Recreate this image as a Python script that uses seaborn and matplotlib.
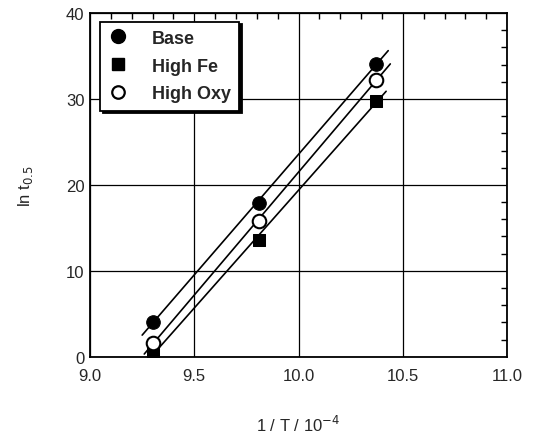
import numpy as np
import pandas as pd
import matplotlib
matplotlib.use("Agg")
import matplotlib.pyplot as plt
import seaborn as sns
from matplotlib.lines import Line2D
from matplotlib.ticker import MultipleLocator

sns.set_style("white")
plt.rcParams['font.family'] = ['Liberation Sans', 'DejaVu Sans']

# data
inv_T = [9.30, 9.81, 10.37]
base = [4.1, 17.9, 34.1]
high_fe = [0.5, 13.6, 29.8]
high_oxy = [1.6, 15.8, 32.2]
series_names = ["Base", "High Fe", "High Oxy"]
fit_ranges = {"Base": (9.25, 10.43), "High Fe": (9.31, 10.42), "High Oxy": (9.26, 10.44)}

df = pd.DataFrame({
    "x": inv_T * 3,
    "y": base + high_fe + high_oxy,
    "series": [s for s in series_names for _ in inv_T],
})

fig = plt.figure(figsize=(5.36, 4.39), dpi=100)
ax = fig.add_axes([0.168, 0.185, 0.778, 0.783])

ax.grid(True, color="black", linewidth=0.9)
ax.set_axisbelow(True)

# fit lines
for name in series_names:
    sub = df[df.series == name]
    m, c = np.polyfit(sub.x, sub.y, 1)
    x0, x1 = fit_ranges[name]
    xs = np.array([x0, x1])
    ax.plot(xs, m * xs + c, color="black", linewidth=1.2, zorder=2)

sns.scatterplot(data=df[df.series == "Base"], x="x", y="y", marker="o", s=95,
                color="black", edgecolor="black", ax=ax, zorder=3, legend=False)
sns.scatterplot(data=df[df.series == "High Fe"], x="x", y="y", marker="s", s=85,
                color="black", edgecolor="black", ax=ax, zorder=3, legend=False)
sns.scatterplot(data=df[df.series == "High Oxy"], x="x", y="y", marker="o", s=95,
                facecolor="white", edgecolor="black", linewidth=1.5, ax=ax, zorder=3, legend=False)

ax.set_xlim(9.0, 11.0)
ax.set_ylim(0, 40)
ax.xaxis.set_major_locator(MultipleLocator(0.5))
ax.xaxis.set_minor_locator(MultipleLocator(0.1))
ax.yaxis.set_major_locator(MultipleLocator(10))
ax.yaxis.set_minor_locator(MultipleLocator(2))
ax.set_xticks([9.0, 9.5, 10.0, 10.5, 11.0])
ax.set_xticklabels(["9.0", "9.5", "10.0", "10.5", "11.0"])
ax.tick_params(which="both", direction="in", top=True, right=True, labelsize=12)
ax.tick_params(which="major", length=0, pad=8)
ax.tick_params(which="minor", length=4, width=1, color="black")
ax.tick_params(axis="y", which="major", pad=4)
for sp in ax.spines.values():
    sp.set_color("black")
    sp.set_linewidth(1.3)

ax.set_xlabel("1 / T / 10$^{-4}$", fontsize=12, labelpad=22)
ax.set_ylabel("ln t$_{0.5}$", fontsize=12, labelpad=22)

handles = [
    Line2D([], [], marker="o", linestyle="none", markersize=10, markerfacecolor="black", markeredgecolor="black"),
    Line2D([], [], marker="s", linestyle="none", markersize=9, markerfacecolor="black", markeredgecolor="black"),
    Line2D([], [], marker="o", linestyle="none", markersize=9, markerfacecolor="white", markeredgecolor="black", markeredgewidth=1.6),
]
leg = ax.legend(handles, series_names, loc="upper left", bbox_to_anchor=(0.025, 0.975),
                frameon=True, fancybox=False, shadow={"color": "black", "alpha": 1},
                prop={"weight": "bold", "size": 13}, handletextpad=1.4,
                borderpad=0.45, labelspacing=0.6, handlelength=1.0, borderaxespad=0)
leg.get_frame().set_edgecolor("black")
leg.get_frame().set_linewidth(1.3)

fig.savefig("out.png", dpi=100)
